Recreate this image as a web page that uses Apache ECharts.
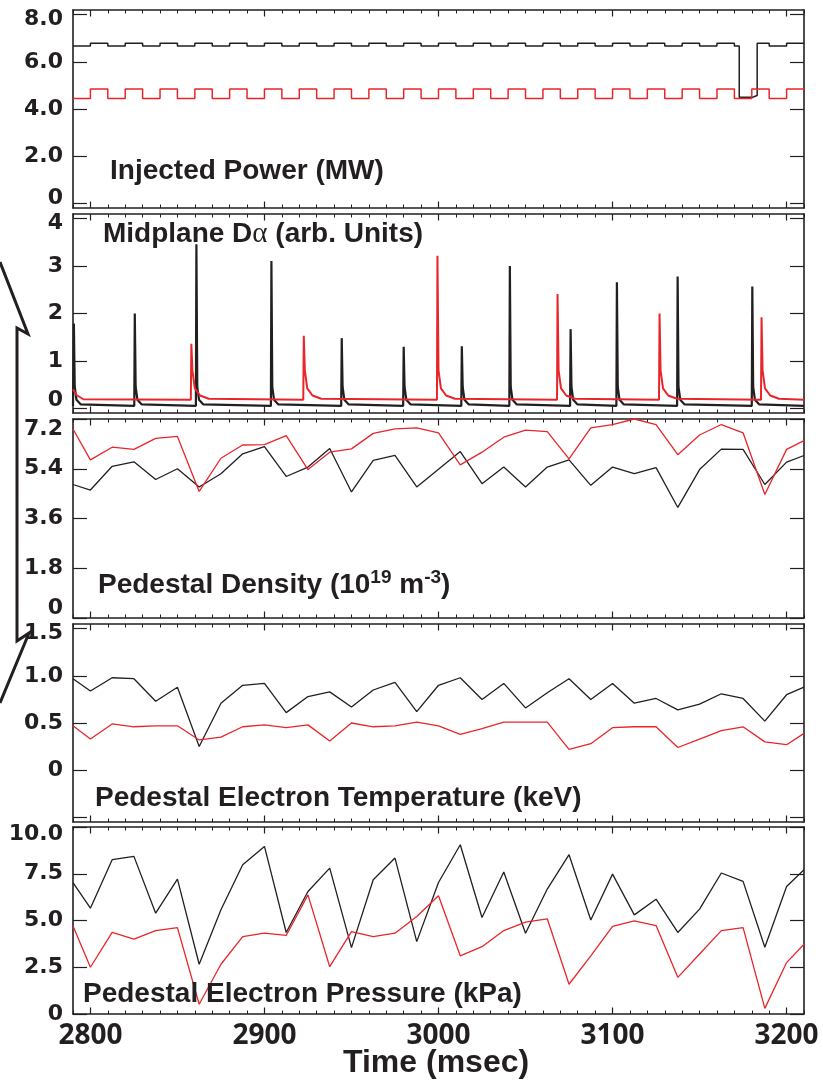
<!DOCTYPE html>
<html>
<head>
<meta charset="utf-8">
<script src="https://cdn.jsdelivr.net/npm/echarts@6/dist/echarts.min.js"></script>
<style>
  html, body { margin: 0; padding: 0; background: #fff; }
  #main { width: 823px; height: 1080px; }
</style>
</head>
<body>
<div id="main"></div>
<script>
// time axis (msec)
var xMin = 2790, xMax = 3210;
var xMajor = [2800, 2900, 3000, 3100, 3200];

// injected power, step levels (MW) - value holds until the next time
var redPowerTimes = [2790, 2800, 2810, 2820, 2830, 2840, 2850, 2860, 2870, 2880, 2890,
  2900, 2910, 2920, 2930, 2940, 2950, 2960, 2970, 2980, 2990,
  3000, 3010, 3020, 3030, 3040, 3050, 3060, 3070, 3080, 3090,
  3100, 3110, 3120, 3130, 3140, 3150, 3160, 3170, 3180, 3190,
  3200, 3210];
var redPower = [4.45, 4.85, 4.45, 4.85, 4.45, 4.85, 4.45, 4.85, 4.45, 4.85, 4.45,
  4.85, 4.45, 4.85, 4.45, 4.85, 4.45, 4.85, 4.45, 4.85, 4.45,
  4.85, 4.45, 4.85, 4.45, 4.85, 4.45, 4.85, 4.45, 4.85, 4.45,
  4.85, 4.45, 4.85, 4.45, 4.85, 4.45, 4.85, 4.45, 4.85, 4.45,
  4.85, 4.85];
var blackPowerTimes = [2790, 2800, 2810, 2820, 2830, 2840, 2850, 2860, 2870, 2880, 2890,
  2900, 2910, 2920, 2930, 2940, 2950, 2960, 2970, 2980, 2990,
  3000, 3010, 3020, 3030, 3040, 3050, 3060, 3070, 3080, 3090,
  3100, 3110, 3120, 3130, 3140, 3150, 3160, 3170, 3172.8, 3180.4, 3183.1, 3190,
  3200, 3210];
var blackPower = [6.67, 6.79, 6.67, 6.79, 6.67, 6.79, 6.67, 6.79, 6.67, 6.79, 6.67,
  6.79, 6.67, 6.79, 6.67, 6.79, 6.67, 6.79, 6.67, 6.79, 6.67,
  6.79, 6.67, 6.79, 6.67, 6.79, 6.67, 6.79, 6.67, 6.79, 6.67,
  6.79, 6.67, 6.79, 6.67, 6.79, 6.67, 6.79, 6.67, 4.50, 4.57, 6.79, 6.67,
  6.79, 6.79];

// midplane D-alpha: ELM spike times and peak heights
var blackElmTimes = [2790.5, 2825.5, 2860.9, 2904, 2944.4, 2980, 3013.4, 3041, 3075.9, 3102.5, 3137.4, 3180.3];
var blackElmPeaks = [1.79, 2.0, 3.46, 3.11, 1.48, 1.30, 1.31, 3.0, 1.67, 2.66, 2.78, 2.57];
var redElmTimes = [2858, 2922.6, 2999.4, 3068.4, 3127, 3185.6];
var redElmPeaks = [1.36, 1.53, 3.22, 2.41, 2.0, 1.92];
var blackDaBase = 0.05;
var redDaBase = 0.18;
var redDaStart = [[2790, 0.40], [2792, 0.28], [2796, 0.19]];
// decay after a spike: [msec after peak, value]
var blackTail = [[0.5, 0.45], [1.5, 0.18], [4, 0.08]];
var redTail = [[0.6, 0.8], [2, 0.42], [5, 0.27], [10, 0.2]];

// pedestal profiles, sampled every 12.5 ms
var profTimes = [2790, 2800, 2812.5, 2825, 2837.5, 2850, 2862.5, 2875, 2887.5, 2900,
  2912.5, 2925, 2937.5, 2950, 2962.5, 2975, 2987.5, 3000, 3012.5, 3025,
  3037.5, 3050, 3062.5, 3075, 3087.5, 3100, 3112.5, 3125, 3137.5, 3150,
  3162.5, 3175, 3187.5, 3200, 3210];
var blackDensity = [4.83, 4.63, 5.49, 5.65, 5.01, 5.40, 4.74, 5.22, 5.94, 6.20,
  5.12, 5.46, 6.13, 4.56, 5.70, 5.88, 4.74, 5.38, 6.02, 4.86,
  5.46, 4.74, 5.46, 5.72, 4.80, 5.46, 5.22, 5.44, 4.00, 5.37,
  6.11, 6.10, 4.83, 5.64, 5.88];
var redDensity = [6.84, 5.72, 6.18, 6.10, 6.50, 6.57, 4.58, 5.78, 6.26, 6.27,
  6.60, 5.37, 6.00, 6.12, 6.68, 6.84, 6.88, 6.70, 5.54, 6.00,
  6.54, 6.80, 6.74, 5.76, 6.88, 7.00, 7.20, 7.00, 5.91, 6.62,
  7.00, 6.70, 4.47, 6.10, 6.42];
var blackTe = [0.97, 0.84, 0.98, 0.97, 0.73, 0.88, 0.25, 0.71, 0.90, 0.92,
  0.61, 0.78, 0.83, 0.67, 0.85, 0.93, 0.62, 0.90, 0.98, 0.75,
  0.92, 0.66, 0.82, 0.97, 0.75, 0.92, 0.71, 0.76, 0.64, 0.70,
  0.81, 0.76, 0.52, 0.80, 0.88];
var redTe = [0.47, 0.33, 0.49, 0.46, 0.47, 0.47, 0.32, 0.35, 0.46, 0.48,
  0.45, 0.48, 0.31, 0.50, 0.46, 0.47, 0.51, 0.47, 0.38, 0.44,
  0.51, 0.51, 0.51, 0.22, 0.28, 0.45, 0.46, 0.46, 0.24, 0.33,
  0.42, 0.46, 0.30, 0.27, 0.39];
var blackPe = [7.03, 5.66, 8.25, 8.43, 5.39, 7.21, 2.66, 5.57, 7.98, 8.96,
  4.36, 6.55, 7.80, 3.55, 7.18, 8.34, 3.87, 7.03, 9.05, 5.16,
  7.59, 4.32, 6.68, 8.52, 5.03, 7.48, 5.30, 6.14, 4.36, 5.61,
  7.54, 7.09, 3.57, 6.82, 7.71];
var redPe = [4.71, 2.50, 4.36, 4.00, 4.46, 4.62, 0.52, 2.66, 4.14, 4.32,
  4.20, 6.37, 2.53, 4.41, 4.14, 4.32, 5.21, 6.32, 3.11, 3.60,
  4.46, 4.91, 5.09, 1.59, 3.11, 4.68, 4.98, 4.73, 1.96, 3.21,
  4.46, 4.62, 0.30, 2.75, 3.73];

// y tick values and labels per panel
var powerTicks = [0, 2, 4, 6, 8];
var powerLabels = ['0', '2.0', '4.0', '6.0', '8.0'];
var daTicks = [0, 1, 2, 3, 4];
var daLabels = ['0', '1', '2', '3', '4'];
var densTicks = [0, 1.8, 3.6, 5.4, 7.2];
var densLabels = ['0', '1.8', '3.6', '5.4', '7.2'];
var teTicks = [-0.5, 0, 0.5, 1.0, 1.5];
var teLabels = ['', '0', '0.5', '1.0', '1.5'];
var peTicks = [0, 2.5, 5, 7.5, 10];
var peLabels = ['0', '2.5', '5.0', '7.5', '10.0'];

var ink = '#231f20';
var red = '#e8262a';

function pairs(xs, ys) {
  return xs.map(function (x, i) { return [x, ys[i]]; });
}

function elmTrace(start, times, peaks, tail, base) {
  var pts = start.slice();
  times.forEach(function (t, i) {
    pts.push([t - 0.3, base], [t, peaks[i]]);
    tail.forEach(function (d) { pts.push([t + d[0], d[1]]); });
  });
  pts.push([xMax, base]);
  return pts;
}

// shift (px, + = down) keeps the end labels inside each panel
var panels = [
  {top: 10, height: 198, min: -0.2, max: 8.2, ticks: powerTicks, labels: powerLabels, shift: {'8.0': 5, '0': -5},
    lines: [[blackPowerTimes, blackPower, ink, 1.5, 'end'], [redPowerTimes, redPower, red, 1.5, 'end']]},
  {top: 214, height: 199, min: -0.1, max: 4.1, ticks: daTicks, labels: daLabels, shift: {'4': 5, '0': -8},
    traces: [[elmTrace([[xMin, blackDaBase]], blackElmTimes, blackElmPeaks, blackTail, blackDaBase), ink, 2.2],
             [elmTrace(redDaStart, redElmTimes, redElmPeaks, redTail, redDaBase), red, 2]]},
  {top: 419, height: 199, min: 0, max: 7.2, ticks: densTicks, labels: densLabels, shift: {'7.2': 10, '0': -10},
    lines: [[profTimes, blackDensity, ink, 1.3], [profTimes, redDensity, red, 1.3]]},
  {top: 624, height: 198, min: -0.55, max: 1.55, ticks: teTicks, labels: teLabels, shift: {'1.5': 5},
    lines: [[profTimes, blackTe, ink, 1.3], [profTimes, redTe, red, 1.3]]},
  {top: 827, height: 187, min: 0, max: 10, ticks: peTicks, labels: peLabels, shift: {'10.0': 7},
    lines: [[profTimes, blackPe, ink, 1.3], [profTimes, redPe, red, 1.3]]}
];

var yFont = {fontFamily: 'DejaVu Sans', fontWeight: 'bold', fontSize: 22, color: ink};
var frame = {color: ink, width: 1.6};

var grids = [], xAxes = [], yAxes = [], series = [];
panels.forEach(function (p, i) {
  var last = i === panels.length - 1;
  for (var g = 0; g < 2; g++) {
    grids.push({left: 73, right: 19, top: p.top, height: p.height, containLabel: false, outerBoundsMode: 'none'});
  }
  var ga = 2 * i, gb = 2 * i + 1;
  // minor ticks + frame
  ['bottom', 'top'].forEach(function (pos) {
    xAxes.push({gridIndex: ga, type: 'value', position: pos, min: xMin, max: xMax, interval: 10,
      axisLine: {show: true, onZero: false, lineStyle: frame},
      axisTick: {show: true, inside: true, length: 3.5, lineStyle: {color: ink, width: 1}},
      axisLabel: {show: false}, splitLine: {show: false}});
  });
  // major ticks (+ time labels on the bottom panel)
  ['bottom', 'top'].forEach(function (pos) {
    xAxes.push({gridIndex: gb, type: 'value', position: pos, min: xMin, max: xMax,
      axisLine: {show: false, onZero: false},
      axisTick: {show: true, inside: true, length: 6.5, customValues: xMajor, lineStyle: {color: ink, width: 1.2}},
      axisLabel: {show: last && pos === 'bottom', customValues: xMajor, margin: 8,
        formatter: function (v) { return String(v); },
        fontFamily: 'Open Sans', fontWeight: 'bold', fontSize: 28, color: ink},
      splitLine: {show: false}});
  });

  var rich = {n: Object.assign({}, yFont)};
  var keyOf = {};
  Object.keys(p.shift).forEach(function (lab, j) {
    var s = p.shift[lab];
    rich['s' + j] = Object.assign({}, yFont, {padding: s > 0 ? [2 * s, 0, 0, 0] : [0, 0, -2 * s, 0]});
    keyOf[lab] = 's' + j;
  });
  var fmt = function (v) {
    var k = -1;
    p.ticks.forEach(function (t, j) { if (Math.abs(t - v) < 1e-6) k = j; });
    var s = k < 0 ? '' : p.labels[k];
    if (!s) return '';
    return '{' + (keyOf[s] || 'n') + '|' + s + '}';
  };
  yAxes.push({gridIndex: ga, type: 'value', position: 'left', min: p.min, max: p.max,
    axisLine: {show: true, onZero: false, lineStyle: frame},
    axisTick: {show: true, inside: true, length: 14, customValues: p.ticks, lineStyle: {color: ink, width: 1.2}},
    axisLabel: {show: true, customValues: p.ticks, margin: 10, formatter: fmt, rich: rich},
    splitLine: {show: false}});
  yAxes.push({gridIndex: ga, type: 'value', position: 'right', min: p.min, max: p.max,
    axisLine: {show: true, onZero: false, lineStyle: frame},
    axisTick: {show: true, inside: true, length: 14, customValues: p.ticks, lineStyle: {color: ink, width: 1.2}},
    axisLabel: {show: false}, splitLine: {show: false}});
  yAxes.push({gridIndex: gb, type: 'value', show: false, min: p.min, max: p.max});

  (p.lines || []).forEach(function (l) {
    series.push({type: 'line', xAxisIndex: 4 * i, yAxisIndex: 3 * i, data: pairs(l[0], l[1]),
      step: l[4] || false, symbol: 'none', clip: true, silent: true,
      lineStyle: {color: l[2], width: l[3]}});
  });
  (p.traces || []).forEach(function (tr) {
    series.push({type: 'line', xAxisIndex: 4 * i, yAxisIndex: 3 * i, data: tr[0],
      symbol: 'none', clip: true, silent: true, lineStyle: {color: tr[1], width: tr[2]}});
  });
});

var tStyle = {fontFamily: 'Liberation Sans', fontWeight: 'bold', fontSize: 28, color: ink, lineHeight: 34};
var titles = [
  {text: 'Injected Power (MW)', left: 110, top: 154},
  {text: 'Midplane D{g|α} (arb. Units)', left: 103, top: 217},
  {text: 'Pedestal Density (10{s|19} m{s|-3})', left: 98, top: 568},
  {text: 'Pedestal Electron Temperature (keV)', left: 95, top: 781},
  {text: 'Pedestal Electron Pressure (kPa)', left: 83, top: 977}
].map(function (t) {
  return {text: t.text, left: t.left, top: t.top, padding: 0,
    textStyle: Object.assign({}, tStyle, {rich: {
      g: {fontFamily: 'Liberation Serif', fontWeight: 'normal', fontSize: 29, color: ink, lineHeight: 34},
      s: {fontFamily: 'Liberation Sans', fontWeight: 'bold', fontSize: 19, color: ink, lineHeight: 19, verticalAlign: 'top'}
    }})};
});
titles.push({text: 'Time (msec)', left: 343, top: 1044, padding: 0,
  textStyle: {fontFamily: 'Liberation Sans', fontWeight: 'bold', fontSize: 32, color: ink, lineHeight: 38}});

var chart = echarts.init(document.getElementById('main'), null, {renderer: 'canvas'});
chart.setOption({
  animation: false,
  backgroundColor: '#ffffff',
  title: titles,
  grid: grids,
  xAxis: xAxes,
  yAxis: yAxes,
  series: series,
  graphic: [{
    type: 'polyline', silent: true,
    shape: {points: [[0, 262], [28, 334], [17, 328], [17, 641], [29, 633], [0, 703]]},
    style: {stroke: ink, lineWidth: 3, fill: null, lineJoin: 'miter'}
  }]
});
</script>
</body>
</html>
